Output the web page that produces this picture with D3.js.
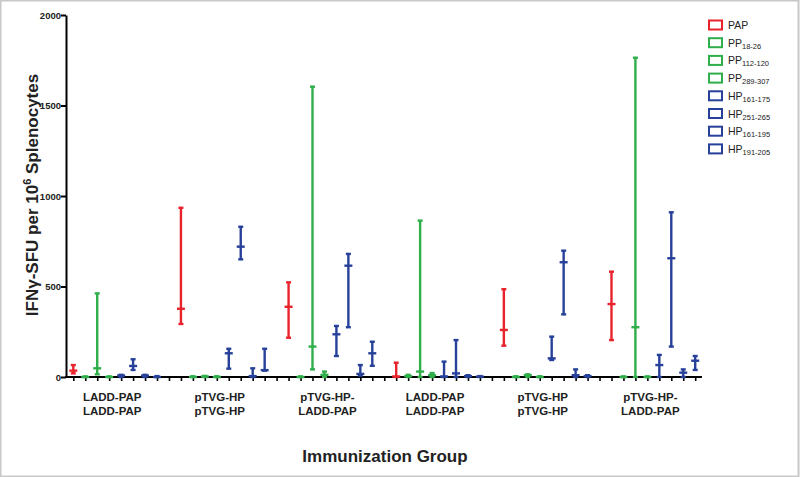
<!DOCTYPE html>
<html><head><meta charset="utf-8">
<script src="https://cdn.jsdelivr.net/npm/d3@7"></script>
<style>body{margin:0;background:#fff}svg{display:block}text{font-family:"Liberation Sans",Arial,sans-serif}</style>
</head><body><svg id="c" width="800" height="477"></svg>
<script>
const groups = [["LADD-PAP","LADD-PAP"],["pTVG-HP","pTVG-HP"],["pTVG-HP-","LADD-PAP"],["LADD-PAP","LADD-PAP"],["pTVG-HP","pTVG-HP"],["pTVG-HP-","LADD-PAP"]];
const seriesNames = [["PAP",""],["PP","18-26"],["PP","112-120"],["PP","289-307"],["HP","161-175"],["HP","251-265"],["HP","161-195"],["HP","191-205"]];
const seriesColors = ["#e8232b","#2fae4a","#2fae4a","#2fae4a","#27409a","#27409a","#27409a","#27409a"];
// rows = series, columns = groups
const mins = [
  [20,293,217,0,173,204],
  [0,0,0,0,0,0],
  [15,0,42,0,0,0],
  [0,0,0,0,0,0],
  [0,46,116,0,94,0],
  [39,650,275,0,346,168],
  [0,0,8,0,0,0],
  [0,35,62,0,0,39]
];
const medians = [
  [35,377,388,3,260,403],
  [0,0,0,5,0,0],
  [48,3,168,30,10,275],
  [0,0,12,10,0,0],
  [8,131,236,3,103,66],
  [61,720,615,20,634,656],
  [8,5,17,5,10,24],
  [0,38,131,2,5,90]
];
const maxs = [
  [66,935,523,79,485,582],
  [3,4,3,12,4,3],
  [462,6,1604,864,15,1764],
  [3,4,30,22,4,3],
  [12,156,282,85,223,122],
  [98,830,680,204,698,910],
  [12,48,66,10,42,42],
  [5,156,195,5,10,116]
];
const yTicks = [0,500,1000,1500,2000];

const svg = d3.select("#c");
svg.append("rect").attr("x",0.5).attr("y",0.5).attr("width",798).attr("height",476).attr("fill","none").attr("stroke","#c8c8c8").attr("stroke-width",2);

const nS = seriesNames.length, nG = groups.length, slotsPer = nS + 1;
const nSlots = nG * slotsPer - 1;
const x = d3.scaleLinear().domain([0, nSlots - 1]).range([73.3, 695.2]);
const y = d3.scaleLinear().domain([0, 2000]).range([377, 15]);

// axes
const yAxis = d3.axisLeft(y).tickValues(yTicks).tickSize(5).tickSizeOuter(0).tickFormat(d3.format("d"));
const gy = svg.append("g").attr("transform","translate(66,0)").call(yAxis);
gy.select(".domain").attr("stroke","#000").attr("stroke-width",2);
gy.selectAll(".tick line").attr("stroke","#000").attr("stroke-width",2);
gy.selectAll(".tick text").attr("font-size",9.5).attr("font-weight","bold").attr("fill","#222").attr("x",-5);

const xAxis = d3.axisBottom(x).tickValues(d3.range(nSlots)).tickSize(4).tickSizeOuter(0).tickFormat("");
const gx = svg.append("g").attr("transform","translate(0,377)").call(xAxis);
gx.select(".domain").attr("d","M65,0H702").attr("stroke","#000").attr("stroke-width",2);
gx.selectAll(".tick line").attr("stroke","#000").attr("stroke-width",1.6);

// bars
const items = [];
for (let g = 0; g < nG; g++) for (let s = 0; s < nS; s++)
  items.push({g, s, lo: mins[s][g], md: medians[s][g], hi: maxs[s][g]});
const bars = svg.append("g").selectAll("g").data(items).join("g")
  .attr("stroke", d => seriesColors[d.s]).attr("stroke-width", 2.4);
const cx = d => x(d.g * slotsPer + d.s);
bars.append("line").attr("x1",cx).attr("x2",cx).attr("y1",d=>y(d.lo)).attr("y2",d=>y(d.hi));
bars.append("line").attr("x1",d=>cx(d)-2.5).attr("x2",d=>cx(d)+2.5).attr("y1",d=>y(d.hi)).attr("y2",d=>y(d.hi));
bars.append("line").attr("x1",d=>cx(d)-2.5).attr("x2",d=>cx(d)+2.5).attr("y1",d=>y(d.lo)).attr("y2",d=>y(d.lo));
bars.append("line").attr("x1",d=>cx(d)-4).attr("x2",d=>cx(d)+4).attr("y1",d=>y(d.md)).attr("y2",d=>y(d.md));

// group labels
groups.forEach((lab, g) => {
  const c = (x(g*slotsPer) + x(g*slotsPer + nS - 1)) / 2 - 3;
  const t = svg.append("text").attr("x", c).attr("y", 401).attr("text-anchor","middle")
    .attr("font-size", 11.5).attr("font-weight","bold").attr("fill","#222");
  t.append("tspan").attr("x", c).attr("dy", 0).text(lab[0]);
  t.append("tspan").attr("x", c).attr("dy", 14).text(lab[1]);
});

// titles
svg.append("text").attr("x", 385).attr("y", 462).attr("text-anchor","middle")
  .attr("font-size", 17).attr("font-weight","bold").attr("fill","#222").text("Immunization Group");
const yt = svg.append("text").attr("transform","translate(38,195) rotate(-90)").attr("text-anchor","middle")
  .attr("font-size", 17).attr("font-weight","bold").attr("fill","#222");
yt.append("tspan").text("IFNγ-SFU per 10");
yt.append("tspan").attr("font-size",11).attr("dy",-7).text("6");
yt.append("tspan").attr("dy",7).text(" Splenocytes");

// legend
const leg = svg.append("g").selectAll("g").data(seriesNames).join("g")
  .attr("transform",(d,i)=>`translate(709,${25 + i*17.7})`);
leg.append("rect").attr("x",0).attr("y",-4.5).attr("width",13).attr("height",9)
  .attr("fill","none").attr("stroke",(d,i)=>seriesColors[i]).attr("stroke-width",2);
const lt = leg.append("text").attr("x",19).attr("y",4).attr("font-size",10.5).attr("fill","#222");
lt.append("tspan").text(d=>d[0]);
lt.append("tspan").attr("font-size",7.5).attr("dy",2).text(d=>d[1]);
</script></body></html>
